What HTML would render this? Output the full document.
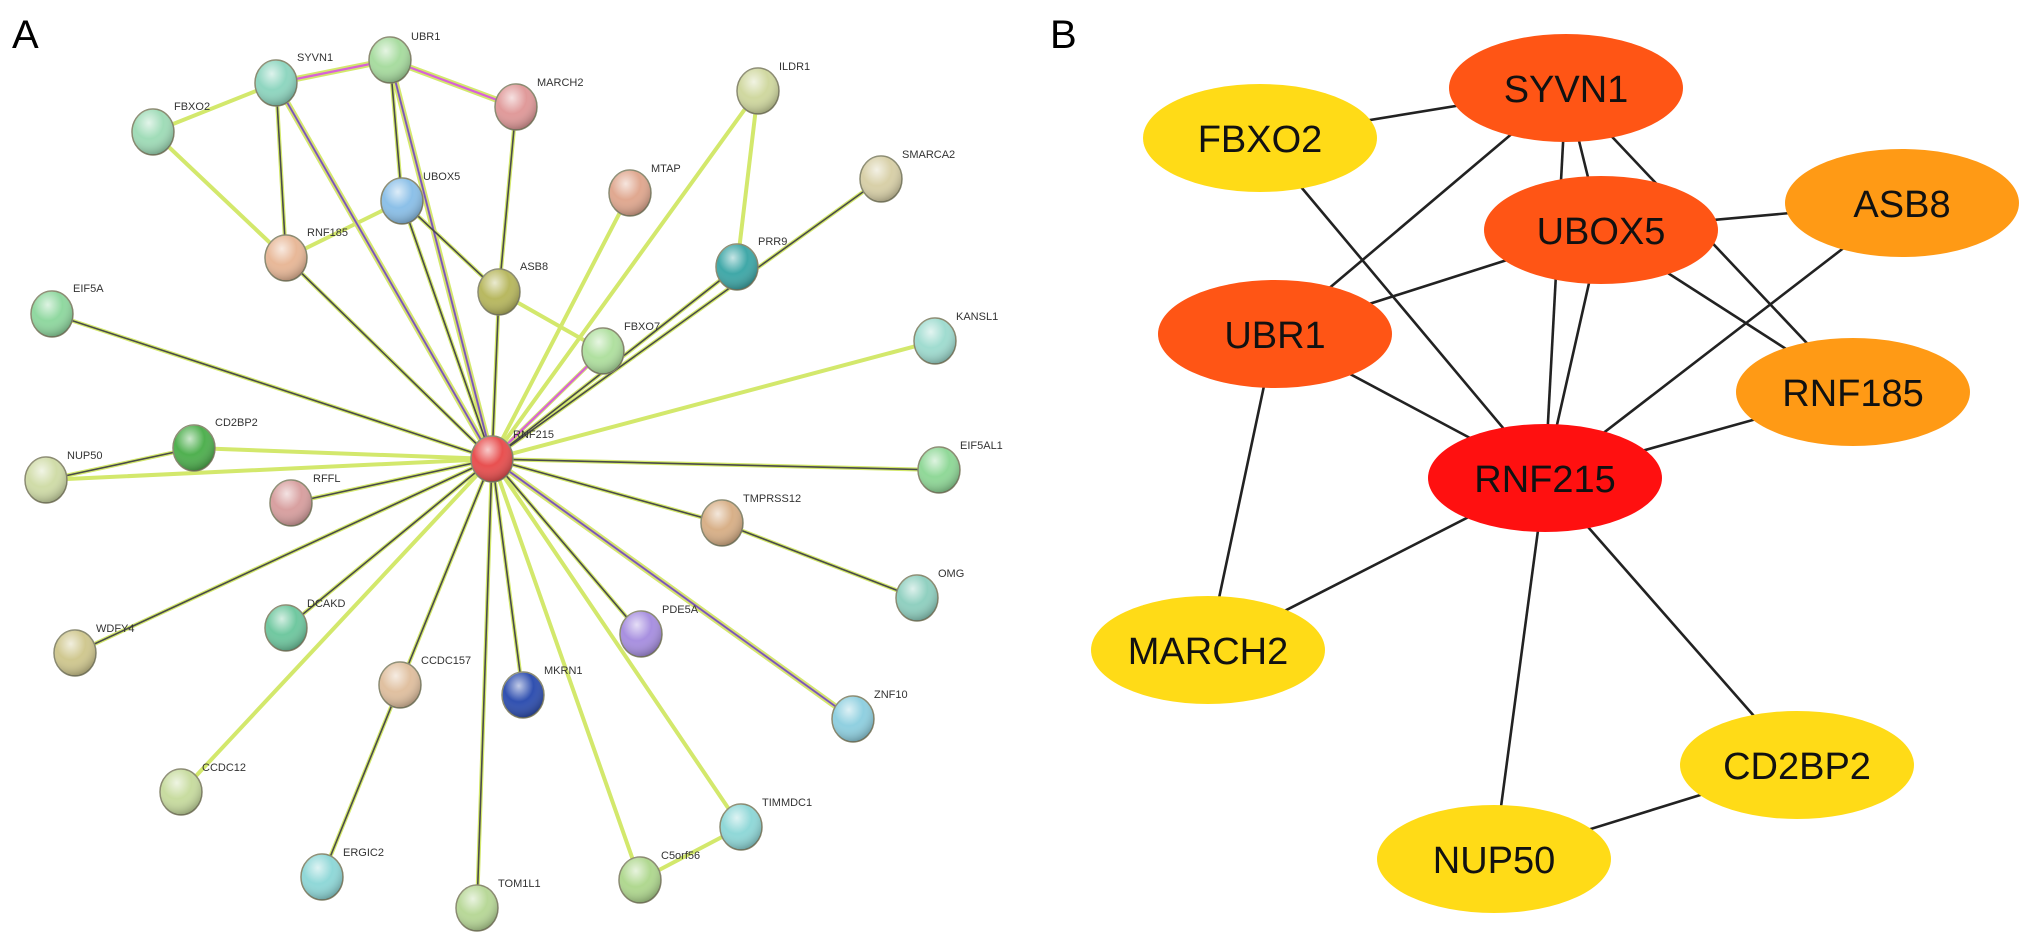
<!DOCTYPE html>
<html><head><meta charset="utf-8"><style>
html,body{margin:0;padding:0;background:#fff;}
svg{display:block;}
.lbl{font-family:"Liberation Sans",Arial,sans-serif;font-size:11px;fill:#333;}
.big{font-family:"Liberation Sans",Arial,sans-serif;font-size:38px;fill:#111;text-anchor:middle;dominant-baseline:central;}
.hd{font-family:"Liberation Sans",Arial,sans-serif;font-size:40px;fill:#000;}
.y{stroke:#d3e86c;stroke-width:4;}
.d{stroke:#4a4a4a;stroke-width:1.6;}
.p{stroke:#d860d8;stroke-width:2.2;}
.b{stroke:#222;stroke-width:2.6;}
</style></head><body>
<svg width="2032" height="947" viewBox="0 0 2032 947" xmlns="http://www.w3.org/2000/svg">
<defs>
<radialGradient id="g" cx="40%" cy="30%" r="70%">
<stop offset="0" stop-color="#fff" stop-opacity="0.7"/>
<stop offset="0.5" stop-color="#fff" stop-opacity="0"/>
<stop offset="1" stop-color="#000" stop-opacity="0.25"/>
</radialGradient>
</defs>
<text class="hd" x="12" y="48">A</text>
<text class="hd" x="1050" y="48">B</text>

<!-- Panel A edges: yellow base -->
<g class="y" stroke-linecap="round">
<line x1="276" y1="83" x2="390" y2="60" style="stroke-width:6"/>
<line x1="390" y1="60" x2="516" y2="107" style="stroke-width:6"/>
<line x1="276" y1="83" x2="153" y2="132"/>
<line x1="153" y1="132" x2="286" y2="258"/>
<line x1="276" y1="83" x2="286" y2="258"/>
<line x1="276" y1="83" x2="492" y2="459" style="stroke-width:6"/>
<line x1="390" y1="60" x2="402" y2="201"/>
<line x1="390" y1="60" x2="492" y2="459" style="stroke-width:6"/>
<line x1="402" y1="201" x2="286" y2="258"/>
<line x1="402" y1="201" x2="492" y2="459"/>
<line x1="402" y1="201" x2="499" y2="292"/>
<line x1="516" y1="107" x2="499" y2="292"/>
<line x1="499" y1="292" x2="492" y2="459"/>
<line x1="499" y1="292" x2="603" y2="351"/>
<line x1="286" y1="258" x2="492" y2="459"/>
<line x1="630" y1="193" x2="492" y2="459"/>
<line x1="758" y1="91" x2="492" y2="459"/>
<line x1="758" y1="91" x2="737" y2="267"/>
<line x1="737" y1="267" x2="492" y2="459"/>
<line x1="881" y1="179" x2="492" y2="459"/>
<line x1="603" y1="351" x2="492" y2="459"/>
<line x1="52" y1="314" x2="492" y2="459"/>
<line x1="935" y1="341" x2="492" y2="459"/>
<line x1="194" y1="448" x2="492" y2="459"/>
<line x1="194" y1="448" x2="46" y2="480"/>
<line x1="46" y1="480" x2="492" y2="459"/>
<line x1="291" y1="503" x2="492" y2="459"/>
<line x1="939" y1="470" x2="492" y2="459"/>
<line x1="722" y1="523" x2="492" y2="459"/>
<line x1="722" y1="523" x2="917" y2="598"/>
<line x1="75" y1="653" x2="492" y2="459"/>
<line x1="286" y1="628" x2="492" y2="459"/>
<line x1="181" y1="792" x2="492" y2="459"/>
<line x1="400" y1="685" x2="492" y2="459"/>
<line x1="400" y1="685" x2="322" y2="877"/>
<line x1="523" y1="695" x2="492" y2="459"/>
<line x1="477" y1="908" x2="492" y2="459"/>
<line x1="640" y1="880" x2="492" y2="459"/>
<line x1="640" y1="880" x2="741" y2="827"/>
<line x1="741" y1="827" x2="492" y2="459"/>
<line x1="641" y1="634" x2="492" y2="459"/>
<line x1="853" y1="719" x2="492" y2="459" style="stroke-width:6"/>
</g>
<!-- pink/purple -->
<g class="p">
<line x1="276" y1="83" x2="390" y2="60"/>
<line x1="390" y1="60" x2="516" y2="107"/>
<line x1="276" y1="83" x2="492" y2="459"/>
<line x1="390" y1="60" x2="492" y2="459"/>
<line x1="603" y1="351" x2="492" y2="459"/>
<line x1="853" y1="719" x2="492" y2="459"/>
</g>
<!-- dark -->
<g class="d">
<line x1="276" y1="83" x2="286" y2="258"/>
<line x1="276" y1="83" x2="492" y2="459" style="stroke:#7060b0"/>
<line x1="390" y1="60" x2="402" y2="201"/>
<line x1="390" y1="60" x2="492" y2="459" style="stroke:#7060b0"/>
<line x1="402" y1="201" x2="492" y2="459"/>
<line x1="402" y1="201" x2="499" y2="292"/>
<line x1="516" y1="107" x2="499" y2="292"/>
<line x1="499" y1="292" x2="492" y2="459"/>
<line x1="286" y1="258" x2="492" y2="459"/>
<line x1="737" y1="267" x2="492" y2="459"/>
<line x1="881" y1="179" x2="492" y2="459"/>
<line x1="52" y1="314" x2="492" y2="459"/>
<line x1="194" y1="448" x2="46" y2="480"/>
<line x1="291" y1="503" x2="492" y2="459"/>
<line x1="939" y1="470" x2="492" y2="459"/>
<line x1="722" y1="523" x2="492" y2="459"/>
<line x1="722" y1="523" x2="917" y2="598"/>
<line x1="75" y1="653" x2="492" y2="459"/>
<line x1="286" y1="628" x2="492" y2="459"/>
<line x1="400" y1="685" x2="492" y2="459"/>
<line x1="400" y1="685" x2="322" y2="877"/>
<line x1="523" y1="695" x2="492" y2="459"/>
<line x1="477" y1="908" x2="492" y2="459"/>
<line x1="641" y1="634" x2="492" y2="459"/>
<line x1="853" y1="719" x2="492" y2="459" style="stroke:#7060b0"/>
</g>

<!-- Panel A nodes -->
<g stroke="#8a8a70" stroke-width="1.5">
<ellipse cx="276" cy="83" rx="21" ry="23" fill="#8fd6c0"/>
<ellipse cx="390" cy="60" rx="21" ry="23" fill="#a8dca0"/>
<ellipse cx="516" cy="107" rx="21" ry="23" fill="#e09a9a"/>
<ellipse cx="153" cy="132" rx="21" ry="23" fill="#a0dcb8"/>
<ellipse cx="402" cy="201" rx="21" ry="23" fill="#8cc0e8"/>
<ellipse cx="630" cy="193" rx="21" ry="23" fill="#e0a890"/>
<ellipse cx="286" cy="258" rx="21" ry="23" fill="#e8b898"/>
<ellipse cx="499" cy="292" rx="21" ry="23" fill="#b8b860"/>
<ellipse cx="52" cy="314" rx="21" ry="23" fill="#90d8a0"/>
<ellipse cx="603" cy="351" rx="21" ry="23" fill="#b0e0a0"/>
<ellipse cx="194" cy="448" rx="21" ry="23" fill="#50b050"/>
<ellipse cx="758" cy="91" rx="21" ry="23" fill="#d0d8a0"/>
<ellipse cx="737" cy="267" rx="21" ry="23" fill="#40a8a8"/>
<ellipse cx="881" cy="179" rx="21" ry="23" fill="#d8d0a8"/>
<ellipse cx="935" cy="341" rx="21" ry="23" fill="#a0dcd0"/>
<ellipse cx="46" cy="480" rx="21" ry="23" fill="#d0dca8"/>
<ellipse cx="291" cy="503" rx="21" ry="23" fill="#d8a0a0"/>
<ellipse cx="939" cy="470" rx="21" ry="23" fill="#90d898"/>
<ellipse cx="722" cy="523" rx="21" ry="23" fill="#d8b088"/>
<ellipse cx="917" cy="598" rx="21" ry="23" fill="#90d0c0"/>
<ellipse cx="75" cy="653" rx="21" ry="23" fill="#d0c890"/>
<ellipse cx="286" cy="628" rx="21" ry="23" fill="#70c8a0"/>
<ellipse cx="641" cy="634" rx="21" ry="23" fill="#a890e0"/>
<ellipse cx="400" cy="685" rx="21" ry="23" fill="#e0c0a0"/>
<ellipse cx="523" cy="695" rx="21" ry="23" fill="#3050b0"/>
<ellipse cx="853" cy="719" rx="21" ry="23" fill="#90d0e0"/>
<ellipse cx="181" cy="792" rx="21" ry="23" fill="#c8dca0"/>
<ellipse cx="741" cy="827" rx="21" ry="23" fill="#90d8d8"/>
<ellipse cx="322" cy="877" rx="21" ry="23" fill="#90d8d8"/>
<ellipse cx="640" cy="880" rx="21" ry="23" fill="#b0d890"/>
<ellipse cx="477" cy="908" rx="21" ry="23" fill="#b8d898"/>
<ellipse cx="492" cy="459" rx="21" ry="23" fill="#e85050"/>
</g>
<g fill="url(#g)">
<ellipse cx="276" cy="83" rx="21" ry="23"/><ellipse cx="390" cy="60" rx="21" ry="23"/><ellipse cx="516" cy="107" rx="21" ry="23"/><ellipse cx="153" cy="132" rx="21" ry="23"/><ellipse cx="402" cy="201" rx="21" ry="23"/><ellipse cx="630" cy="193" rx="21" ry="23"/><ellipse cx="286" cy="258" rx="21" ry="23"/><ellipse cx="499" cy="292" rx="21" ry="23"/><ellipse cx="52" cy="314" rx="21" ry="23"/><ellipse cx="603" cy="351" rx="21" ry="23"/><ellipse cx="194" cy="448" rx="21" ry="23"/><ellipse cx="758" cy="91" rx="21" ry="23"/><ellipse cx="737" cy="267" rx="21" ry="23"/><ellipse cx="881" cy="179" rx="21" ry="23"/><ellipse cx="935" cy="341" rx="21" ry="23"/><ellipse cx="46" cy="480" rx="21" ry="23"/><ellipse cx="291" cy="503" rx="21" ry="23"/><ellipse cx="939" cy="470" rx="21" ry="23"/><ellipse cx="722" cy="523" rx="21" ry="23"/><ellipse cx="917" cy="598" rx="21" ry="23"/><ellipse cx="75" cy="653" rx="21" ry="23"/><ellipse cx="286" cy="628" rx="21" ry="23"/><ellipse cx="641" cy="634" rx="21" ry="23"/><ellipse cx="400" cy="685" rx="21" ry="23"/><ellipse cx="523" cy="695" rx="21" ry="23"/><ellipse cx="853" cy="719" rx="21" ry="23"/><ellipse cx="181" cy="792" rx="21" ry="23"/><ellipse cx="741" cy="827" rx="21" ry="23"/><ellipse cx="322" cy="877" rx="21" ry="23"/><ellipse cx="640" cy="880" rx="21" ry="23"/><ellipse cx="477" cy="908" rx="21" ry="23"/><ellipse cx="492" cy="459" rx="21" ry="23"/>
</g>
<!-- Panel A labels -->
<g class="lbl">
<text x="297" y="61">SYVN1</text>
<text x="411" y="40">UBR1</text>
<text x="537" y="86">MARCH2</text>
<text x="174" y="110">FBXO2</text>
<text x="423" y="180">UBOX5</text>
<text x="651" y="172">MTAP</text>
<text x="307" y="236">RNF185</text>
<text x="520" y="270">ASB8</text>
<text x="73" y="292">EIF5A</text>
<text x="624" y="330">FBXO7</text>
<text x="215" y="426">CD2BP2</text>
<text x="779" y="70">ILDR1</text>
<text x="758" y="245">PRR9</text>
<text x="902" y="158">SMARCA2</text>
<text x="956" y="320">KANSL1</text>
<text x="67" y="459">NUP50</text>
<text x="313" y="482">RFFL</text>
<text x="960" y="449">EIF5AL1</text>
<text x="743" y="502">TMPRSS12</text>
<text x="938" y="577">OMG</text>
<text x="96" y="632">WDFY4</text>
<text x="307" y="607">DCAKD</text>
<text x="662" y="613">PDE5A</text>
<text x="421" y="664">CCDC157</text>
<text x="544" y="674">MKRN1</text>
<text x="874" y="698">ZNF10</text>
<text x="202" y="771">CCDC12</text>
<text x="762" y="806">TIMMDC1</text>
<text x="343" y="856">ERGIC2</text>
<text x="661" y="859">C5orf56</text>
<text x="498" y="887">TOM1L1</text>
<text x="513" y="438">RNF215</text>
</g>

<!-- Panel B edges -->
<g class="b">
<line x1="1566" y1="88" x2="1260" y2="138"/>
<line x1="1566" y1="88" x2="1601" y2="230"/>
<line x1="1566" y1="88" x2="1275" y2="334"/>
<line x1="1566" y1="88" x2="1853" y2="392"/>
<line x1="1566" y1="88" x2="1545" y2="478"/>
<line x1="1260" y1="138" x2="1545" y2="478"/>
<line x1="1601" y1="230" x2="1902" y2="203"/>
<line x1="1601" y1="230" x2="1275" y2="334"/>
<line x1="1601" y1="230" x2="1545" y2="478"/>
<line x1="1601" y1="230" x2="1853" y2="392"/>
<line x1="1275" y1="334" x2="1545" y2="478"/>
<line x1="1275" y1="334" x2="1208" y2="650"/>
<line x1="1902" y1="203" x2="1545" y2="478"/>
<line x1="1853" y1="392" x2="1545" y2="478"/>
<line x1="1545" y1="478" x2="1208" y2="650"/>
<line x1="1545" y1="478" x2="1494" y2="859"/>
<line x1="1545" y1="478" x2="1797" y2="765"/>
<line x1="1797" y1="765" x2="1494" y2="859"/>
</g>
<g>
<ellipse cx="1260" cy="138" rx="117" ry="54" fill="#ffdb17"/>
<ellipse cx="1566" cy="88" rx="117" ry="54" fill="#ff5515"/>
<ellipse cx="1601" cy="230" rx="117" ry="54" fill="#ff5515"/>
<ellipse cx="1902" cy="203" rx="117" ry="54" fill="#ff9a15"/>
<ellipse cx="1275" cy="334" rx="117" ry="54" fill="#ff5515"/>
<ellipse cx="1853" cy="392" rx="117" ry="54" fill="#ff9a15"/>
<ellipse cx="1545" cy="478" rx="117" ry="54" fill="#ff1010"/>
<ellipse cx="1208" cy="650" rx="117" ry="54" fill="#ffdb17"/>
<ellipse cx="1797" cy="765" rx="117" ry="54" fill="#ffdb17"/>
<ellipse cx="1494" cy="859" rx="117" ry="54" fill="#ffdb17"/>
</g>
<g class="big">
<text x="1260" y="140">FBXO2</text>
<text x="1566" y="90">SYVN1</text>
<text x="1601" y="232">UBOX5</text>
<text x="1902" y="205">ASB8</text>
<text x="1275" y="336">UBR1</text>
<text x="1853" y="394">RNF185</text>
<text x="1545" y="480">RNF215</text>
<text x="1208" y="652">MARCH2</text>
<text x="1797" y="767">CD2BP2</text>
<text x="1494" y="861">NUP50</text>
</g>
</svg>
</body></html>
